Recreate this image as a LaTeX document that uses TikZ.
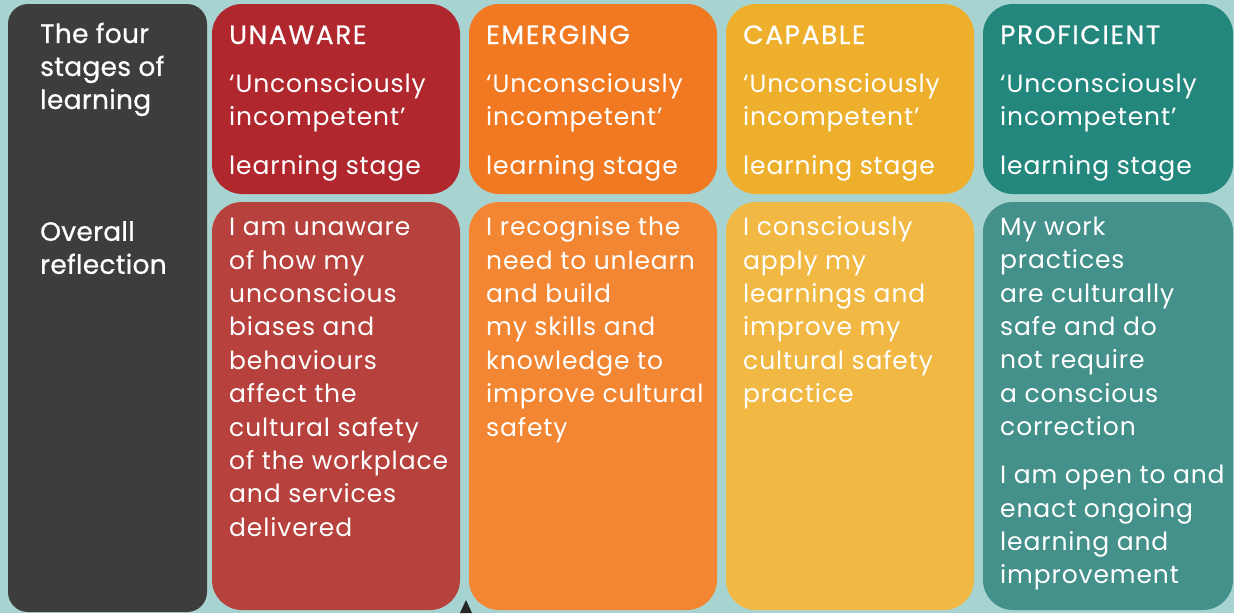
\documentclass[tikz,border=0pt]{standalone}
\usepackage{fontspec}
\setmainfont{Poppins}[LetterSpace=3.5]
\newfontfamily\headfont{Poppins}[FakeBold=0.6, LetterSpace=6]
\newfontfamily\sidefont{Poppins}[FakeBold=0.6, LetterSpace=1]

\definecolor{bgteal}{HTML}{A7D4D0}
\definecolor{darkcol}{HTML}{3D3D3D}
\definecolor{redtop}{HTML}{B0282E}
\definecolor{redbot}{HTML}{B7413D}
\definecolor{orangetop}{HTML}{F07922}
\definecolor{orangebot}{HTML}{F38633}
\definecolor{yellowtop}{HTML}{EEB02C}
\definecolor{yellowbot}{HTML}{F1B843}
\definecolor{tealtop}{HTML}{23877E}
\definecolor{tealbot}{HTML}{43918A}

\tikzset{
  stagebox/.style={rounded corners=30pt},
  bodytext/.style={anchor=north west, inner sep=0pt, align=left, text=white,
    font=\fontsize{25}{33.4}\selectfont},
  headtext/.style={anchor=base west, inner sep=0pt, text=white,
    font=\headfont\fontsize{26.5}{33.4}\selectfont},
  sidetext/.style={anchor=north west, inner sep=0pt, align=left, text=white,
    font=\sidefont\fontsize{26.5}{33}\selectfont}
}

\begin{document}
\begin{tikzpicture}[x=1pt,y=-1pt]
% background and columns
\fill[bgteal] (0,0) rectangle (1234,613);
\fill[darkcol, rounded corners=20pt] (8,4) rectangle (207,612);
\fill[redtop, stagebox] (212,4) rectangle (460,194);
\fill[redbot, stagebox] (212,202) rectangle (460,610);
\fill[orangetop, stagebox] (469,4) rectangle (717,194);
\fill[orangebot, stagebox] (469,202) rectangle (717,610);
\fill[yellowtop, stagebox] (726,4) rectangle (974,194);
\fill[yellowbot, stagebox] (726,202) rectangle (974,610);
\fill[tealtop, stagebox] (983,4) rectangle (1233,194);
\fill[tealbot, stagebox] (983,202) rectangle (1233,610);
\fill[black!85] (466,600) -- (472,613) -- (460,613) -- cycle;

% left column
\node[sidetext] (stages) at (40,22.5) {The four\\stages of\\learning};
\node[sidetext] (overall) at (40,221) {Overall\\reflection};

% top row
\node[headtext] (unaware) at (229,44) {UNAWARE};
\node[bodytext] (unawareq) at (229,73) {‘Unconsciously\\incompetent’};
\node[bodytext] (unawarel) at (229,155) {learning stage};
\node[headtext] (emerging) at (486,44) {EMERGING};
\node[bodytext] (emergingq) at (486,73) {‘Unconsciously\\incompetent’};
\node[bodytext] (emergingl) at (486,155) {learning stage};
\node[headtext] (capable) at (743,44) {CAPABLE};
\node[bodytext] (capableq) at (743,73) {‘Unconsciously\\incompetent’};
\node[bodytext] (capablel) at (743,155) {learning stage};
\node[headtext] (proficient) at (1000,44) {PROFICIENT};
\node[bodytext] (proficientq) at (1000,73) {‘Unconsciously\\incompetent’};
\node[bodytext] (proficientl) at (1000,155) {learning stage};

% reflections
\node[bodytext] (unawarer) at (229,218) {I am unaware\\of how my\\unconscious\\biases and\\behaviours\\affect the\\cultural safety\\of the workplace\\and services\\delivered};
\node[bodytext] (emergingr) at (486,216.5) {I recognise the\\need to unlearn\\and build\\my skills and\\knowledge to\\improve cultural\\safety};
\node[bodytext] (capabler) at (743,216.5) {I consciously\\apply my\\learnings and\\improve my\\cultural safety\\practice};
\node[bodytext] (proficientr) at (1000,216.5) {My work\\practices\\are culturally\\safe and do\\not require\\a conscious\\correction};
\node[bodytext] (proficientr2) at (1000,465) {I am open to and\\enact ongoing\\learning and\\improvement};
\end{tikzpicture}
\end{document}
